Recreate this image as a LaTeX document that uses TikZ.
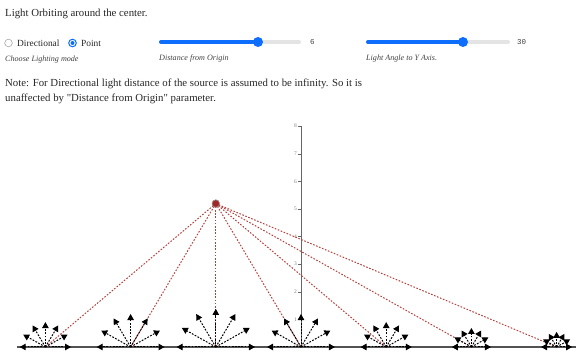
\documentclass[tikz,border=0pt]{standalone}
\usepackage{fontspec}
\setmainfont{Liberation Serif}
\setmonofont{Liberation Mono}
\usetikzlibrary{arrows.meta}
\definecolor{SliderBlue}{HTML}{0D6EFD}
\definecolor{TrackGray}{HTML}{E4E4E4}
\definecolor{RayRed}{HTML}{B5403C}
\definecolor{LampRed}{HTML}{A32626}
\definecolor{AxisGray}{HTML}{666666}

\begin{document}
\begin{tikzpicture}[x=1pt,y=-1pt,
    txt/.style={anchor=base west,inner sep=0pt,font=\fontsize{10.8}{12}\selectfont,text=black!85},
    caplbl/.style={anchor=base west,inner sep=0pt,font=\fontsize{8.1}{9}\selectfont\itshape,text=black!75},
    val/.style={anchor=base west,inner sep=0pt,font=\fontsize{7.5}{8}\ttfamily,text=black!75},
    track/.style={TrackGray,line width=4pt,line cap=round},
    fill bar/.style={SliderBlue,line width=4pt,line cap=round},
    fan/.style={-{Triangle[length=6pt,width=6.5pt]},black,line width=1pt,dash pattern=on 1.8pt off 1.4pt},
    ray/.style={RayRed,line width=1pt,dash pattern=on 1.6pt off 1.6pt},
    lamp/.style={circle,fill=LampRed,draw=gray!80,line width=0.5pt,minimum size=7.5pt,inner sep=0pt},
    tick lbl/.style={anchor=east,inner sep=1pt,font=\fontsize{5.5}{6}\selectfont,text=gray}]
  \useasboundingbox (0,0) rectangle (576,352);
  \clip (0,0) rectangle (576,352);

  % controls
  \node[txt] (title) at (5,17) {Light Orbiting around the center.};
  \draw[gray!70,line width=0.6pt,fill=white] (8.5,43) circle (3.8pt);
  \node[txt,font=\fontsize{9.4}{11}\selectfont] (dirlbl) at (17,46.5) {Directional};
  \draw[SliderBlue,line width=1pt,fill=white] (72.5,43) circle (3.8pt);
  \fill[SliderBlue] (72.5,43) circle (2pt);
  \node[txt,font=\fontsize{9.4}{11}\selectfont] (ptlbl) at (81,46.5) {Point};
  \node[caplbl] (modelbl) at (5,62) {Choose Lighting mode};

  \draw[track] (161,42) -- (299,42);
  \draw[fill bar] (161,42) -- (258,42);
  \fill[SliderBlue] (258,42) circle (5pt);
  \node[val] (distval) at (310,45) {6};
  \node[caplbl] (distlbl) at (159,61) {Distance from Origin};

  \draw[track] (368,42) -- (508,42);
  \draw[fill bar] (368,42) -- (463,42);
  \fill[SliderBlue] (463,42) circle (5pt);
  \node[val] (angval) at (517,45) {30};
  \node[caplbl] (anglbl) at (366,61) {Light Angle to Y Axis.};

  \node[txt] (note1) at (5,87) {Note: For Directional light distance of the source is assumed to be infinity. So it is};
  \node[txt] (note2) at (5,102) {unaffected by \textquotedbl Distance from Origin\textquotedbl{} parameter.};

  % plot
  \begin{scope}[shift={(301,347)},x=28.4pt,y=27.6pt]
    \draw[AxisGray,line width=0.7pt] (0,0) -- (0,8);
    \foreach \k in {0,...,8} {
      \draw[AxisGray,line width=0.5pt] (0,\k) -- ++(-3pt,0) node[tick lbl] (yt\k) {\k};
    }
    \node[lamp] (lamp) at (-3,5.196) {};
    \foreach \px [count=\i] in {-9,-6,...,9} {
      \coordinate (p\i) at (\px,0);
      \draw[ray] (lamp.center) -- (p\i);
    }
    \draw[AxisGray!80!black,line width=1.5pt] (-10,0) -- (10,0);
    \foreach \px [count=\i] in {-9,-6,...,9} {
      \pgfmathsetmacro\rr{1.38*5.196/sqrt((\px+3)^2+27)}
      \foreach \a in {0,30,...,180}
        \draw[fan] (p\i) -- ++(\a:\rr) coordinate (t\i-\a);
    }
    \node[lamp] at (lamp) {};
  \end{scope}
\end{tikzpicture}
\end{document}
